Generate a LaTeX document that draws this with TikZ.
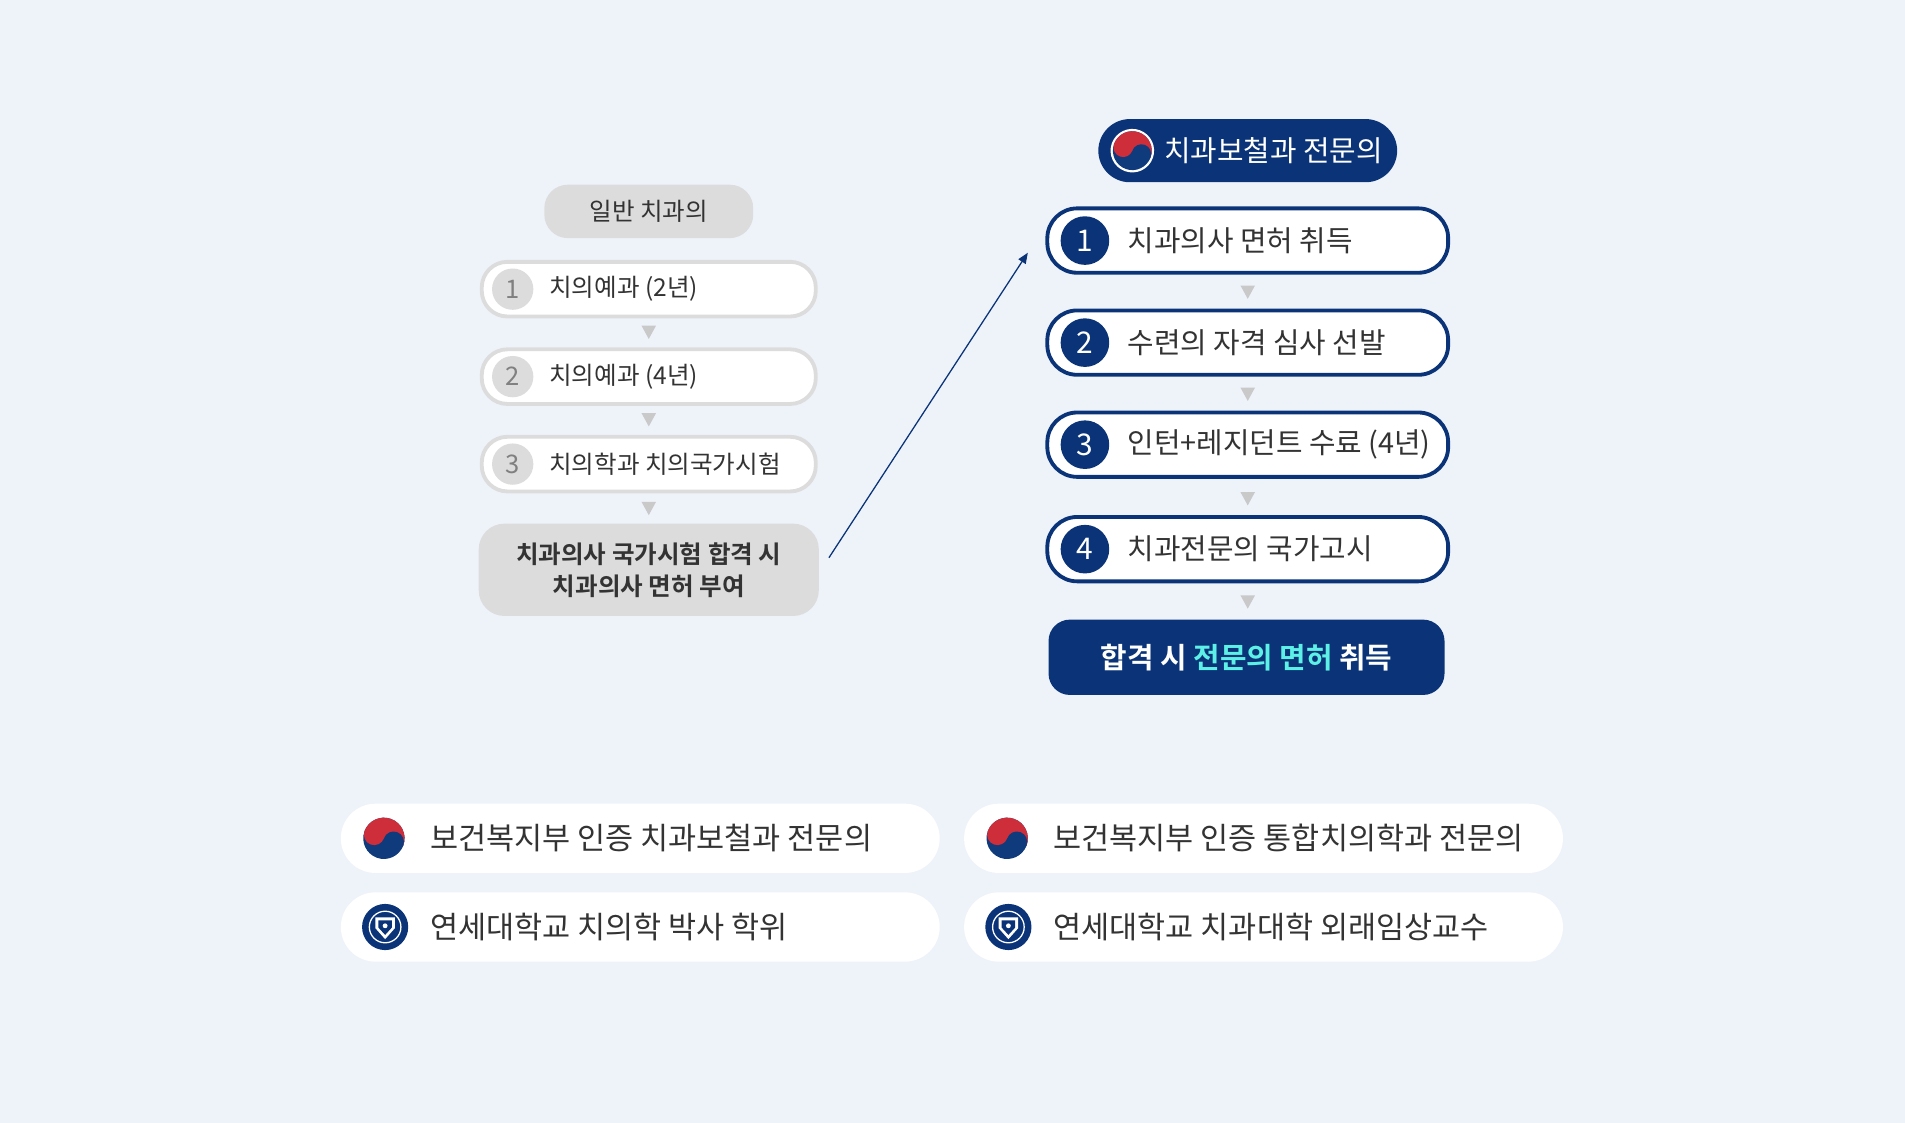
\documentclass[tikz,border=0pt]{standalone}
\usepackage{fontspec}
\setmainfont{Noto Sans CJK KR}
\newfontfamily\krb{Noto Sans CJK KR}[BoldFont={Noto Sans CJK KR Bold}]
\usetikzlibrary{arrows.meta}
\definecolor{bg}{HTML}{EEF3FA}
\definecolor{navy}{HTML}{0B3478}
\definecolor{lgray}{HTML}{DCDCDC}
\definecolor{tgray}{HTML}{C9C9C9}
\definecolor{txt}{HTML}{333333}
\definecolor{cyanT}{HTML}{5CF0E6}
\definecolor{kred}{HTML}{CD2E3A}
\definecolor{kblue}{HTML}{0F3B7D}
\tikzset{
 lbox/.style={draw=lgray,line width=1.8pt,fill=white,rounded corners=12pt,minimum width=5.5cm,minimum height=0.9cm},
 rbox/.style={draw=navy,line width=1.8pt,fill=white,rounded corners=14pt,minimum width=6.6cm,minimum height=1.06cm},
 lnum/.style={circle,fill=lgray,minimum size=0.68cm,inner sep=0pt,text=gray,font=\fontsize{12}{12}\selectfont},
 rnum/.style={circle,fill=navy,minimum size=0.8cm,inner sep=0pt,text=white,font=\fontsize{14}{14}\selectfont},
 ltxt/.style={anchor=west,text=txt,font=\fontsize{11.5}{12}\selectfont},
 rtxt/.style={anchor=west,text=txt,font=\fontsize{13.5}{14}\selectfont},
 tri/.style={fill=tgray},
 pill/.style={fill=white,rounded corners=0.57cm,minimum width=9.86cm,minimum height=1.14cm},
 btxt/.style={anchor=west,text=txt,font=\fontsize{14.3}{16}\selectfont},
}
\newcommand{\mytri}[2]{\fill[tri] (#1-6,#2-5) -- (#1+6,#2-5) -- (#1,#2+6) -- cycle;}
\newcommand{\taeg}[3]{% x y r(px)
 \begin{scope}[shift={(#1,#2)},rotate=160]
 \fill[white] (0,0) circle (#3*1.12);
 \fill[kblue] (0,0) circle (#3);
 \fill[kred] (#3,0) arc (0:180:#3) -- cycle;
 \fill[kblue] (-0.5*#3,0) circle (0.5*#3);
 \fill[kred] (0.5*#3,0) circle (0.5*#3);
 \end{scope}}
\newcommand{\yonsei}[2]{%
 \begin{scope}[shift={(#1,#2)}]
 \fill[navy] (0,0) circle (19);
 \draw[white,line width=0.6pt] (0,0) circle (13);
 \fill[white] (-8,-8) -- (8,-8) -- (8,1) -- (0,10) -- (-8,1) -- cycle;
 \fill[navy] (-5.5,-5.5) -- (5.5,-5.5) -- (5.5,0.5) -- (0,6.5) -- (-5.5,0.5) -- cycle;
 \fill[white] (0,-1) circle (2);
 \end{scope}}
\begin{document}
\begin{tikzpicture}[x=0.02cm,y=-0.02cm]
\fill[bg] (0,0) rectangle (1568,924);
\useasboundingbox (0,0) rectangle (1568,924);
% left column
\node[fill=lgray,rounded corners=11pt,minimum width=3.44cm,minimum height=0.88cm,text=txt,font=\fontsize{11.5}{12}\selectfont] (gen) at (534,174) {일반 치과의};
\node[lbox] (l1) at (534,238) {};
\node[lbox] (l2) at (534,310) {};
\node[lbox] (l3) at (534,382) {};
\foreach \n/\y/\t in {1/238/치의예과 (2년),2/310/치의예과 (4년),3/382/치의학과 치의국가시험}{
 \node[lnum] (ln\n) at (422,\y) {\n};
 \node[ltxt] (lt\n) at (446,\y) {\t};}
\mytri{534}{273}\mytri{534}{345}\mytri{534}{418}
\node[fill=lgray,rounded corners=12pt,minimum width=5.6cm,minimum height=1.52cm,align=center,text=txt,font=\krb\bfseries\fontsize{11.5}{15}\selectfont] (lic) at (534,469) {치과의사 국가시험 합격 시\\치과의사 면허 부여};
\coordinate (ae) at (846,208);
\draw[navy,line width=0.6pt,-{Triangle[length=5pt,width=4pt]}] (lic.east)++(8,-10) -- (ae);
% right column
\node[fill=navy,rounded corners=0.52cm,minimum width=4.92cm,minimum height=1.04cm] (title) at (1027,124) {};
\taeg{932}{124}{16}
\node[anchor=west,text=white,font=\fontsize{13.5}{14}\selectfont] (tt) at (952,124) {치과보철과 전문의};
\foreach \n/\y/\t in {1/198/치과의사 면허 취득,2/282/수련의 자격 심사 선발,3/366/인턴+레지던트 수료 (4년),4/452/치과전문의 국가고시}{
 \node[rbox] (r\n) at (1027,\y) {};
 \node[rnum] (rn\n) at (893,\y) {\n};
 \node[rtxt] (rt\n) at (922,\y) {\t};}
\mytri{1027}{240}\mytri{1027}{324}\mytri{1027}{410}\mytri{1027}{495}
\node[fill=navy,rounded corners=10pt,minimum width=6.52cm,minimum height=1.24cm,font=\krb\bfseries\fontsize{13.5}{15}\selectfont] (fin) at (1026,541) {\textcolor{white}{합격 시} \textcolor{cyanT}{전문의 면허} \textcolor{white}{취득}};
% bottom
\node[pill] (b1) at (527,690) {};
\node[pill] (b2) at (527,763) {};
\node[pill] (b3) at (1040,690) {};
\node[pill] (b4) at (1040,763) {};
\taeg{316}{690}{17}\taeg{829}{690}{17}
\yonsei{317}{763}\yonsei{830}{763}
\node[btxt] (bt1) at (348,690) {보건복지부 인증 치과보철과 전문의};
\node[btxt] (bt2) at (348,763) {연세대학교 치의학 박사 학위};
\node[btxt] (bt3) at (861,690) {보건복지부 인증 통합치의학과 전문의};
\node[btxt] (bt4) at (861,763) {연세대학교 치과대학 외래임상교수};
\end{tikzpicture}
\end{document}
